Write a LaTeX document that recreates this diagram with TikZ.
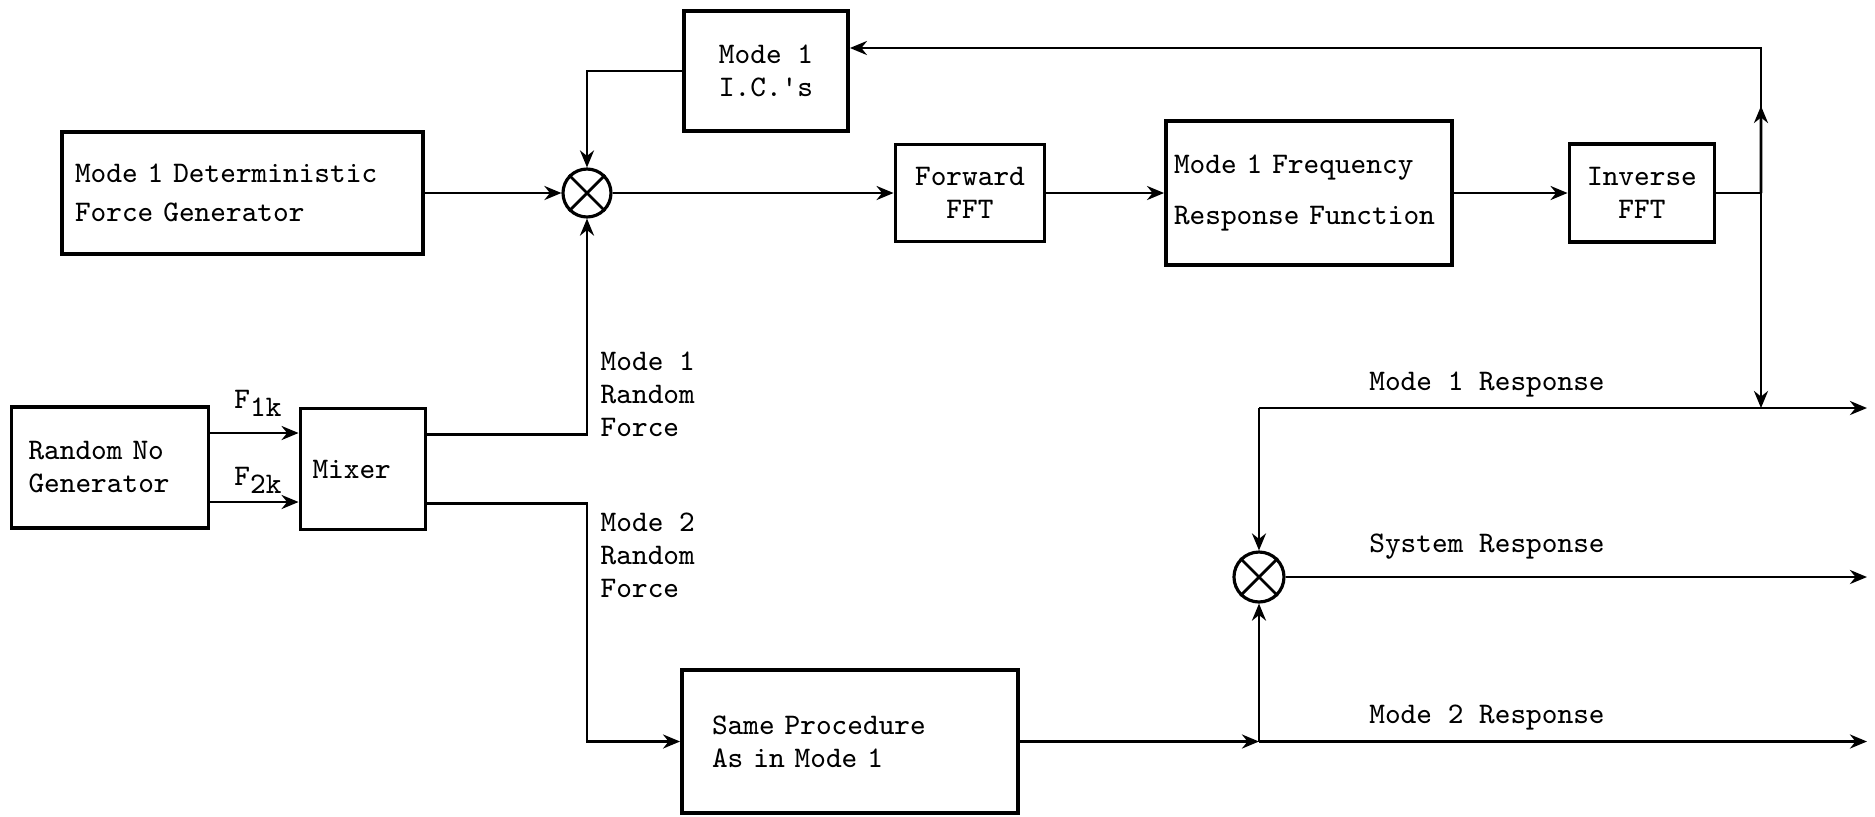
\documentclass[tikz,border=0pt]{standalone}
\usepackage{tikz}
\usetikzlibrary{arrows.meta,calc,positioning}

\tikzset{
  blk/.style={draw,line width=1.1pt,inner ysep=0pt,align=left},
  cblk/.style={draw,line width=1.1pt,inner sep=0pt,align=center},
  mult/.style={draw,circle,line width=0.9pt,inner sep=0pt,minimum size=#1},
  wire/.style={line width=0.8pt},
  arr/.style={wire,-{Stealth[length=1.7mm,width=1.4mm]}},
  lbl/.style={align=left,inner sep=0pt}
}

\begin{document}
\begin{tikzpicture}[font=\ttfamily\fontsize{8.5}{9.4}\selectfont]
  \useasboundingbox (0,0) rectangle (18.75,-8.16);

  % mode 1 chain
  \node[cblk,minimum width=1.64cm,minimum height=1.20cm] (ics) at (7.66,-0.71) {Mode 1\\I.C.'s};
  \node[blk,text width=3.35cm,inner xsep=0.13cm,minimum height=1.22cm] (det) at (2.425,-1.93) {Mode 1 Deterministic\\[1.5pt]Force Generator};
  \node[mult=0.48cm] (sum1) at (5.87,-1.93) {};
  \node[cblk,minimum width=1.49cm,minimum height=0.97cm] (fft) at (9.70,-1.93) {Forward\\FFT};
  \node[blk,text width=2.70cm,inner xsep=0.08cm,minimum height=1.44cm] (frf) at (13.09,-1.93) {Mode 1 Frequency\\[5pt]Response Function};
  \node[cblk,minimum width=1.45cm,minimum height=0.98cm] (ifft) at (16.42,-1.93) {Inverse\\FFT};

  % random force generation
  \node[blk,text width=1.63cm,inner xsep=0.17cm,minimum height=1.21cm] (rng) at (1.10,-4.675) {Random No\\Generator};
  \node[blk,text width=1.01cm,inner xsep=0.12cm,minimum height=1.21cm] (mix) at (3.63,-4.69) {Mixer};
  \node[blk,text width=2.76cm,inner xsep=0.30cm,minimum height=1.43cm] (same) at (8.50,-7.415) {Same Procedure\\As in Mode 1};
  \node[mult=0.50cm] (sum2) at (12.59,-5.77) {};

  \foreach \s in {sum1,sum2} {
    \draw[line width=0.8pt] (\s.north west) -- (\s.south east);
    \draw[line width=0.8pt] (\s.north east) -- (\s.south west);
  }

  \coordinate (tap) at (17.61,-1.93);
  \coordinate (fbtop) at (17.61,-0.48);
  \coordinate (br1) at (12.59,-4.08);
  \coordinate (out1) at (18.67,-4.08);
  \coordinate (out2) at (18.67,-5.77);
  \coordinate (br2) at (12.59,-7.415);
  \coordinate (out3) at (18.67,-7.415);

  \draw[arr] (det.east) -- (sum1.west);
  \draw[arr] (ics.west) -| (sum1.north);
  \draw[arr] (sum1.east) -- (fft.west);
  \draw[arr] (fft.east) -- (frf.west);
  \draw[arr] (frf.east) -- (ifft.west);
  \draw[wire] (ifft.east) -- (tap);
  \draw[arr] (tap) -- (fbtop) -- (ics.east |- fbtop);
  \draw[arr] (tap) -- ($(tap)!0.6!(fbtop)$);
  \draw[arr] (tap) -- (tap |- out1);

  \draw[arr] ([yshift=0.345cm]rng.east) -- ([yshift=0.345cm]rng.east -| mix.west);
  \draw[arr] ([yshift=-0.345cm]rng.east) -- ([yshift=-0.345cm]rng.east -| mix.west);
  \node (f1) at (2.58,-4.03) {F\raisebox{-0.6ex}{1k}};
  \node (f2) at (2.58,-4.80) {F\raisebox{-0.6ex}{2k}};

  \draw[arr] ([yshift=0.345cm]mix.east) -| (sum1.south);
  \draw[arr] ([yshift=-0.345cm]mix.east) -| (sum1 |- same.west) -- (same.west);
  \node[lbl,anchor=west] (rf1) at (6.00,-3.94) {Mode 1\\Random\\Force};
  \node[lbl,anchor=west] (rf2) at (6.00,-5.55) {Mode 2\\Random\\Force};

  % outputs
  \draw[arr] (br1) -- (out1);
  \draw[arr] (br1) -- (sum2.north);
  \draw[arr] (sum2.east) -- (out2);
  \draw[arr] (same.east) -- (br2);
  \draw[arr] (br2) -- (sum2.south);
  \draw[arr] (br2) -- (out3);
  \node (r1) at (14.87,-3.85) {Mode 1 Response};
  \node (r2) at (14.87,-5.47) {System Response};
  \node (r3) at (14.87,-7.18) {Mode 2 Response};
\end{tikzpicture}
\end{document}
